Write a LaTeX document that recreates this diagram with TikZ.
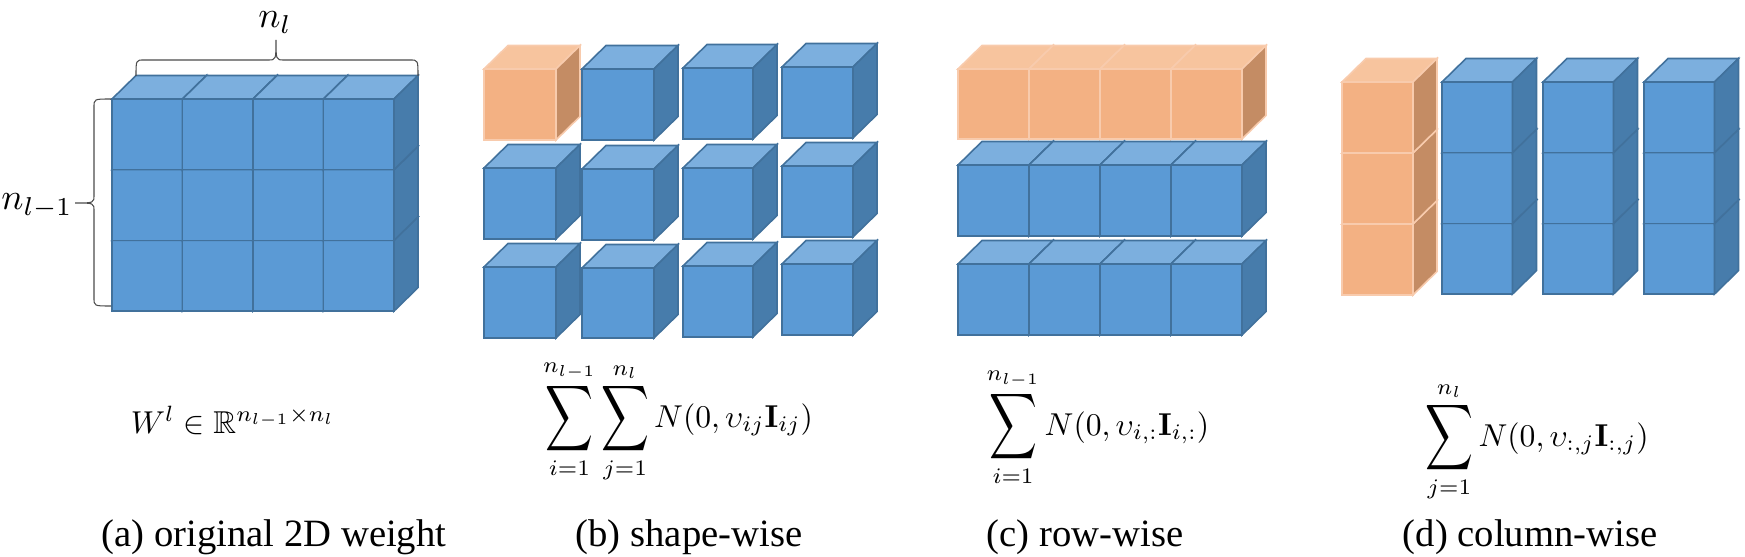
\documentclass[tikz,border=0pt]{standalone}
\usepackage{amsmath,amssymb}
\usepackage{graphicx}
\usepackage[no-math]{fontspec}
\setmainfont{Liberation Serif}

\definecolor{bluFronte}{RGB}{91,154,213}
\definecolor{bluSopra}{RGB}{124,175,222}
\definecolor{bluLato}{RGB}{71,124,171}
\definecolor{bluBordo}{RGB}{65,113,156}
\definecolor{aranFronte}{RGB}{243,177,131}
\definecolor{aranSopra}{RGB}{247,196,158}
\definecolor{aranLato}{RGB}{196,140,100}
\definecolor{aranBordo}{RGB}{248,203,173}

% cubo: #1,#2 spigolo in alto a sinistra della faccia frontale,
% #3,#4 larghezza e altezza, #5 colore (blu o aran)
\newcommand{\cubo}[5]{%
  \filldraw[fronte-#5] (#1,#2) rectangle ++(#3,#4);
  \filldraw[fronte-#5, fill=#5Sopra] (#1,#2) -- ++(24,-23.5) -- ++(#3,0) -- ++(-24,23.5) -- cycle;
  \filldraw[fronte-#5, fill=#5Lato] (#1+#3,#2) -- ++(24,-23.5) -- ++(0,#4) -- ++(-24,23.5) -- cycle;
}
% sommatoria piu' alta, come nell'originale
\newcommand{\Somma}{\mathop{\vcenter{\hbox{\scalebox{1.05}[1.45]{$\displaystyle\sum$}}}}\limits}

\begin{document}
\begin{tikzpicture}[
  x=0.02cm, y=-0.02cm,
  fronte-blu/.style={fill=bluFronte, draw=bluBordo, line width=0.9pt},
  fronte-aran/.style={fill=aranFronte, draw=aranBordo, line width=0.9pt},
  graffa/.style={draw=black!70, line width=0.6pt},
  etichetta/.style={inner sep=0pt, scale=2.1, anchor=base},
  formula/.style={inner sep=0pt, scale=1.8, anchor=base},
  didascalia/.style={inner sep=1pt, scale=2.2, anchor=base}
]
\useasboundingbox (0,0) rectangle (1745,557);

%--------------------------------------------------------------
% (a) peso 2D originale
%--------------------------------------------------------------
\foreach \r in {2,1,0}
  \foreach \c in {0,...,3} {
    \cubo{112+70.5*\c}{99+70.7*\r}{70.5}{70.7}{blu}
  }
% graffe
\draw[graffa] (136,76) .. controls (136,60) .. (144,60) -- (268,60)
  .. controls (276,60) .. (276,40) .. controls (276,60) .. (284,60)
  -- (410,60) .. controls (418,60) .. (418,76);
\draw[graffa] (111,99) .. controls (94,99) .. (94,107) -- (94,195)
  .. controls (94,203) .. (75,203) .. controls (94,203) .. (94,211)
  -- (94,298) .. controls (94,306) .. (111,306);
\node[etichetta] (nl) at (275,28) {$n_l$};
\node[etichetta] (nlm) at (37,210) {$n_{l-1}$};
\node[formula] (formA) at (233,433) {$W^l \in \mathbb{R}^{n_{l-1}\times n_l}$};

%--------------------------------------------------------------
% (b) per elemento
%--------------------------------------------------------------
% riga 1
\cubo{484}{69}{72}{71}{aran}
\cubo{582}{69}{72}{71}{blu}
\cubo{683}{68}{70}{71}{blu}
\cubo{782}{67}{71}{71}{blu}
% riga 2
\cubo{484}{168}{72}{71}{blu}
\cubo{582}{169}{72}{71}{blu}
\cubo{683}{168}{70}{71}{blu}
\cubo{782}{166}{71}{71}{blu}
% riga 3
\cubo{484}{267}{72}{71}{blu}
\cubo{582}{268}{72}{70}{blu}
\cubo{683}{266}{70}{71}{blu}
\cubo{782}{264}{71}{71}{blu}
\node[formula] (formB) at (678,427)
  {$\displaystyle\Somma_{i=1}^{n_{l-1}}\Somma_{j=1}^{n_l} N(0,\upsilon_{ij}\mathbf{I}_{ij})$};

%--------------------------------------------------------------
% (c) per riga
%--------------------------------------------------------------
\foreach \c in {0,...,3} {\cubo{958+71*\c}{69}{71}{70}{aran}}
\foreach \c in {0,...,3} {\cubo{958+71*\c}{165}{71}{71}{blu}}
\foreach \c in {0,...,3} {\cubo{958+71*\c}{264}{71}{71}{blu}}
\node[formula] (formC) at (1098,435)
  {$\displaystyle\Somma_{i=1}^{n_{l-1}} N(0,\upsilon_{i,:}\mathbf{I}_{i,:})$};

%--------------------------------------------------------------
% (d) per colonna
%--------------------------------------------------------------
\foreach \r in {2,1,0} {\cubo{1342}{82+71*\r}{71}{71}{aran}}
\foreach \x in {1442,1543,1644}
  \foreach \r in {2,1,0} {
    \cubo{\x}{82+70.7*\r}{70.5}{70.7}{blu}
  }
\node[formula] (formD) at (1537,446)
  {$\displaystyle\Somma_{j=1}^{n_l} N(0,\upsilon_{:,j}\mathbf{I}_{:,j})$};

%--------------------------------------------------------------
% Didascalie
%--------------------------------------------------------------
\node[didascalia] (didA) at (274,546) {(a) original 2D weight};
\node[didascalia] (didB) at (689,546) {(b) shape-wise};
\node[didascalia] (didC) at (1085,546) {(c) row-wise};
\node[didascalia] (didD) at (1530,546) {(d) column-wise};

\end{tikzpicture}
\end{document}
